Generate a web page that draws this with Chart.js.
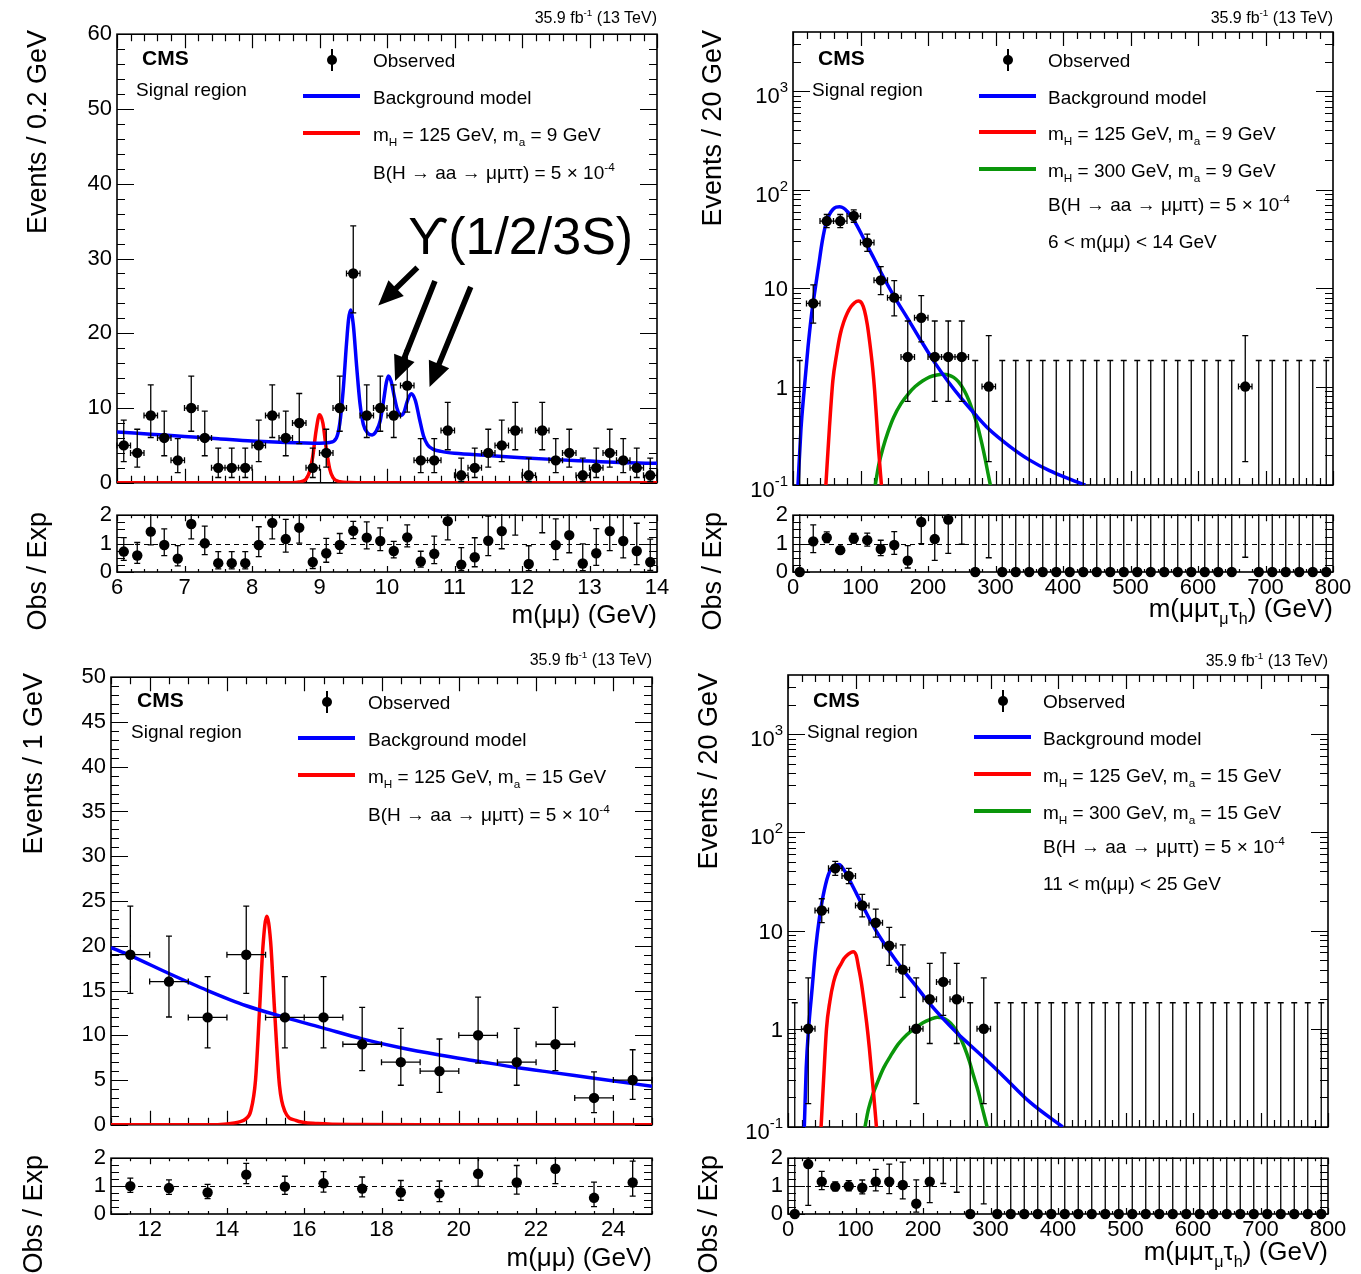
<!DOCTYPE html>
<html>
<head>
<meta charset="utf-8">
<script src="https://cdn.jsdelivr.net/npm/chart.js@4.4.1/dist/chart.umd.min.js"></script>
<style>
  html, body { margin: 0; padding: 0; background: #fff; }
  body { position: relative; width: 1361px; height: 1274px; overflow: hidden;
         font-family: 'Liberation Sans', Arial, sans-serif; color: #000; }
  canvas { position: absolute; }
  .t { position: absolute; white-space: nowrap; line-height: 1; }
  .t sub { font-size: 0.62em; vertical-align: -0.45em; line-height: 0; }
  .t sup { font-size: 0.62em; vertical-align: 0.7em; line-height: 0; }
  .yt { position: absolute; width: 500px; text-align: right; white-space: nowrap; line-height: 1;
        transform-origin: 0 0; transform: rotate(-90deg); }
  .key { position: absolute; }
</style>
</head>
<body>
<canvas id="tlMain"></canvas>
<canvas id="tlRatio"></canvas>
<canvas id="trMain"></canvas>
<canvas id="trRatio"></canvas>
<canvas id="blMain"></canvas>
<canvas id="blRatio"></canvas>
<canvas id="brMain"></canvas>
<canvas id="brRatio"></canvas>
<script>
// Garwood 68% intervals for the observed counts (down / up)
const POISSON_LO = {0: 0, 1: 0.827, 2: 1.292, 3: 1.633, 4: 1.914, 5: 2.159, 6: 2.380, 7: 2.581, 8: 2.768, 9: 2.943,
  10: 3.108, 12: 3.415, 13: 3.559, 16: 3.960, 18: 4.206, 19: 4.324, 28: 5.26, 29: 5.35, 36: 5.97, 43: 6.53, 48: 6.90, 54: 7.32};
const POISSON_HI = {0: 1.841, 1: 2.299, 2: 2.638, 3: 2.918, 4: 3.162, 5: 3.382, 6: 3.583, 7: 3.770, 8: 3.945, 9: 4.110,
  10: 4.266, 12: 4.559, 13: 4.697, 16: 5.083, 18: 5.321, 19: 5.435, 28: 6.36, 29: 6.45, 36: 7.05, 43: 7.59, 48: 7.97, 54: 8.39};

// m(mumu) spectrum, 6-14 GeV, 0.2 GeV bins
const tlCenters = [6.1, 6.3, 6.5, 6.7, 6.9, 7.1, 7.3, 7.5, 7.7, 7.9, 8.1, 8.3, 8.5, 8.7, 8.9, 9.1, 9.3, 9.5, 9.7, 9.9,
  10.1, 10.3, 10.5, 10.7, 10.9, 11.1, 11.3, 11.5, 11.7, 11.9, 12.1, 12.3, 12.5, 12.7, 12.9, 13.1, 13.3, 13.5, 13.7, 13.9];
const tlObserved = [5, 4, 9, 6, 3, 10, 6, 2, 2, 2, 5, 9, 6, 8, 2, 4, 10, 28, 9, 10,
  9, 13, 3, 3, 7, 1, 2, 4, 5, 7, 1, 7, 3, 4, 1, 2, 4, 3, 2, 1];
const tlRatio = [0.72, 0.58, 1.42, 0.95, 0.47, 1.69, 1.01, 0.31, 0.31, 0.31, 0.95, 1.73, 1.16, 1.56, 0.35, 0.66, 0.95, 1.45, 1.21, 1.09,
  0.74, 1.22, 0.37, 0.64, 1.79, 0.26, 0.52, 1.10, 1.44, 2.06, 0.28, 2.19, 0.95, 1.30, 0.30, 0.66, 1.44, 1.09, 0.74, 0.35];
const tlBackground = [[6.0, 6.8], [6.5, 6.5], [7.0, 6.2], [7.5, 5.9], [8.0, 5.6], [8.5, 5.4], [9.0, 5.3], [9.15, 5.4], [9.25, 6.0],
  [9.30, 7.9], [9.35, 12.3], [9.40, 18.6], [9.43, 21.8], [9.46, 23.1], [9.50, 21.2], [9.55, 15.6], [9.60, 10.6], [9.65, 7.8],
  [9.72, 6.6], [9.78, 6.4], [9.84, 6.9], [9.90, 8.3], [9.95, 11.0], [9.99, 13.4], [10.02, 14.3], [10.06, 13.6], [10.10, 11.9],
  [10.15, 9.9], [10.20, 9.0], [10.25, 9.4], [10.30, 10.9], [10.36, 11.9], [10.42, 11.0], [10.48, 8.6], [10.54, 6.3], [10.60, 5.1],
  [10.68, 4.5], [10.8, 4.2], [11.0, 3.95], [11.5, 3.66], [12.0, 3.35], [12.5, 3.1], [13.0, 2.9], [13.5, 2.7], [14.0, 2.6]];
const tlSignal = [[6.0, 0], [8.6, 0], [8.7, 0.1], [8.8, 0.5], [8.85, 1.4], [8.9, 3.5], [8.95, 7.0], [9.0, 9.1], [9.05, 8.0],
  [9.1, 4.6], [9.15, 1.9], [9.2, 0.7], [9.3, 0.15], [9.45, 0.03], [9.7, 0], [14.0, 0]];

// m(mumu tau_mu tau_h) spectra, 0-800 GeV, 20 GeV bins
const massCenters = [10, 30, 50, 70, 90, 110, 130, 150, 170, 190, 210, 230, 250, 270, 290, 310, 330, 350, 370, 390,
  410, 430, 450, 470, 490, 510, 530, 550, 570, 590, 610, 630, 650, 670, 690, 710, 730, 750, 770, 790];

// 6 < m(mumu) < 14 GeV
const trObserved = [0, 7, 48, 48, 54, 29, 12, 8, 2, 5, 2, 2, 2, 0, 1, 0, 0, 0, 0, 0,
  0, 0, 0, 0, 0, 0, 0, 0, 0, 0, 0, 0, 0, 1, 0, 0, 0, 0, 0, 0];
const trRatio = [0, 1.08, 1.21, 0.77, 1.18, 1.12, 0.81, 0.95, 0.40, 1.76, 1.16, 1.85, 2.76, 0, 2.9, 0, 0, 0, 0, 0,
  0, 0, 0, 0, 0, 0, 0, 0, 0, 0, 0, 0, 0, 3.0, 0, 0, 0, 0, 0, 0];
const trBackground = [[7.4, 0.1], [11.7, 0.36], [17, 1.0], [22.2, 2.5], [27.5, 5.4], [33, 10], [38, 17], [43.4, 30], [48.7, 45],
  [54, 56], [59, 63], [64, 66.5], [69, 67], [75, 65], [80.5, 60], [86, 54], [91, 48], [100, 37], [110, 27], [120, 20],
  [130, 14.6], [150, 8.2], [170, 4.9], [190, 2.9], [210, 1.75], [230, 1.12], [250, 0.75], [270, 0.52], [290, 0.37],
  [320, 0.25], [350, 0.18], [380, 0.14], [410, 0.115], [433, 0.1]];
const trSignal125 = [[48.7, 0.1], [54, 0.385], [59, 1.14], [64.5, 2.1], [70, 3.4], [75, 4.5], [80.5, 5.6], [86, 6.5], [91, 7.1],
  [97, 7.4], [102, 7.0], [106, 5.9], [110, 4.3], [114, 2.7], [118, 1.55], [121, 0.9], [124, 0.45], [127, 0.22], [131, 0.1]];
const trSignal300 = [[121.9, 0.1], [127, 0.16], [133.5, 0.24], [141, 0.35], [149, 0.486], [160, 0.67], [170.6, 0.84], [181, 1.0],
  [191.8, 1.14], [202, 1.25], [213, 1.31], [222, 1.33], [230, 1.31], [238, 1.24], [245, 1.12], [253, 0.93], [260.7, 0.72],
  [268, 0.52], [274, 0.385], [280, 0.26], [285, 0.18], [289, 0.13], [292.4, 0.1]];

// m(mumu) spectrum, 11-25 GeV, 1 GeV bins
const blCenters = [11.5, 12.5, 13.5, 14.5, 15.5, 16.5, 17.5, 18.5, 19.5, 20.5, 21.5, 22.5, 23.5, 24.5];
const blObserved = [19, 16, 12, 19, 12, 12, 9, 7, 6, 10, 7, 9, 3, 5];
const blRatio = [1.00, 0.93, 0.77, 1.41, 0.98, 1.10, 0.91, 0.78, 0.74, 1.44, 1.13, 1.62, 0.58, 1.13];
const blBackground = [[11, 19.8], [11.5, 18.9], [12.5, 16.9], [13.5, 15.0], [14.5, 13.3], [15.5, 12.0], [16.5, 10.8], [17.5, 9.6],
  [18.5, 8.6], [19.5, 7.8], [20.5, 7.1], [21.5, 6.4], [22.5, 5.8], [23.5, 5.2], [24.5, 4.6], [25, 4.3]];
const blSignal = [[11, 0], [13.5, 0], [14.0, 0.1], [14.3, 0.3], [14.5, 0.7], [14.62, 1.6], [14.74, 5], [14.84, 12.5], [14.93, 19.8],
  [15.03, 23.3], [15.13, 20.5], [15.23, 13], [15.36, 4.4], [15.5, 1.5], [15.78, 0.5], [16.35, 0.15], [17.5, 0.03], [19, 0], [25, 0]];

// 11 < m(mumu) < 25 GeV
const brObserved = [0, 1, 16, 43, 36, 18, 12, 7, 4, 1, 2, 3, 2, 0, 1, 0, 0, 0, 0, 0,
  0, 0, 0, 0, 0, 0, 0, 0, 0, 0, 0, 0, 0, 0, 0, 0, 0, 0, 0, 0];
const brRatio = [0, 1.79, 1.16, 0.98, 1.00, 0.94, 1.16, 1.16, 1.04, 0.37, 1.16, 2.4, 2.2, 0, 2.1, 0, 0, 0, 0, 0,
  0, 0, 0, 0, 0, 0, 0, 0, 0, 0, 0, 0, 0, 0, 0, 0, 0, 0, 0, 0];
const brBackground = [[24.2, 0.1], [27, 0.4], [30.5, 1.0], [35.8, 2.6], [41, 6.6], [46.4, 13.3], [51.7, 22], [59.6, 36.7],
  [67.6, 45.6], [75.5, 47], [83.4, 41], [94, 30], [110, 18.2], [131, 9.8], [150, 6.2], [170, 4.0], [190, 2.7], [210, 1.8],
  [230, 1.26], [250, 0.91], [270, 0.68], [290, 0.51], [316, 0.345], [358, 0.18], [407, 0.1]];
const brSignal125 = [[49, 0.1], [52.7, 0.3], [57, 1.0], [62, 1.9], [67.6, 3.0], [73, 3.9], [78, 4.5], [83, 5.2], [88.6, 5.7],
  [96.6, 6.1], [101, 5.6], [104.6, 4.2], [108.5, 3.0], [112.5, 1.9], [116.5, 1.15], [120.5, 0.64], [123.5, 0.38], [126.8, 0.22], [131, 0.1]];
const brSignal300 = [[114, 0.1], [119, 0.15], [125.8, 0.216], [133, 0.29], [141.7, 0.40], [152, 0.53], [163, 0.694], [176, 0.87],
  [189, 1.02], [200, 1.15], [210, 1.24], [221, 1.31], [229, 1.29], [237, 1.2], [245, 1.06], [252.8, 0.876], [261, 0.66],
  [268.6, 0.47], [275, 0.33], [281.8, 0.23], [288, 0.155], [295, 0.1]];

// Upsilon arrows (tail -> tip, in axis units)
const upsilonArrows = [
  { from: [10.45, 28.8], to: [9.87, 23.7] },
  { from: [10.71, 27.0], to: [10.12, 13.6] },
  { from: [11.24, 26.2], to: [10.63, 12.8] }
];

const BLUE = '#0000ff', RED = '#ff0000', GREEN = '#0a960a';
const AXIS_W = 110, PAD_R = 30, PAD_V = 16, XAXIS_H = 40;
const RATIO_MAX = 2;
const MARKER = 5.2;

Chart.defaults.font.family = "'Liberation Sans', Arial, sans-serif";
Chart.defaults.font.size = 22;
Chart.defaults.color = '#000';

function steps(from, to, step) {
  const out = [];
  for (let i = 0; from + i * step <= to + step * 1e-6; i++) out.push(+(from + i * step).toFixed(6));
  return out;
}
function logMinor(min, max) {
  const out = [];
  for (let e = Math.round(Math.log10(min)); Math.pow(10, e) < max; e++) {
    for (let k = 2; k <= 9; k++) if (k * Math.pow(10, e) < max) out.push(k * Math.pow(10, e));
  }
  return out;
}

function curve(points, color) {
  return {
    type: 'line', data: points.map(p => ({ x: p[0], y: p[1] })), borderColor: color, borderWidth: 3.5,
    pointRadius: 0, cubicInterpolationMode: 'monotone', fill: false
  };
}

function observed(centers, counts, halfWidth) {
  return {
    type: 'scatter', showLine: false,
    data: centers.map((x, i) => ({ x, y: counts[i] > 0 ? counts[i] : null })),
    pointRadius: MARKER, pointBackgroundColor: '#000', pointBorderColor: '#000', pointBorderWidth: 0,
    errors: {
      centers, values: counts, xHalf: halfWidth,
      lo: counts.map(n => POISSON_LO[n]), hi: counts.map(n => POISSON_HI[n])
    }
  };
}

function ratioPoints(centers, ratio, counts) {
  return {
    type: 'scatter', showLine: false, clip: false,
    data: centers.map((x, i) => ({ x, y: ratio[i] })),
    pointRadius: ctx => (ctx.raw && ctx.raw.y > RATIO_MAX ? 0 : MARKER),
    pointBackgroundColor: '#000', pointBorderColor: '#000', pointBorderWidth: 0,
    errors: {
      centers, values: ratio, xHalf: 0,
      lo: counts.map((n, i) => (n > 0 ? ratio[i] * POISSON_LO[n] / n : 0)),
      hi: counts.map((n, i) => (n > 0 ? ratio[i] * POISSON_HI[n] / n : Infinity))
    }
  };
}

// frame, inward ticks, error bars and extra annotations, ROOT style
function framePlugin(f) {
  return {
    id: 'rootFrame',
    beforeDatasetsDraw(chart) {
      const { ctx, chartArea: a, scales: { x, y } } = chart;
      ctx.save();
      ctx.strokeStyle = '#000';
      ctx.lineWidth = 1.2;
      ctx.beginPath();
      const tickX = (vals, len) => vals.forEach(v => {
        const p = Math.round(x.getPixelForValue(v)) + 0.5;
        if (p < a.left - 1 || p > a.right + 1) return;
        ctx.moveTo(p, a.bottom); ctx.lineTo(p, a.bottom - len);
        ctx.moveTo(p, a.top); ctx.lineTo(p, a.top + len);
      });
      const tickY = (vals, len) => vals.forEach(v => {
        const p = Math.round(y.getPixelForValue(v)) + 0.5;
        if (p < a.top - 1 || p > a.bottom + 1) return;
        ctx.moveTo(a.left, p); ctx.lineTo(a.left + len, p);
        ctx.moveTo(a.right, p); ctx.lineTo(a.right - len, p);
      });
      tickX(f.xMinor, f.xLen[1]); tickX(f.xMajor, f.xLen[0]);
      tickY(f.yMinor, f.yLen[1]); tickY(f.yMajor, f.yLen[0]);
      ctx.stroke();
      if (f.refLine !== undefined) {
        const p = Math.round(y.getPixelForValue(f.refLine)) + 0.5;
        ctx.setLineDash([5, 4]);
        ctx.lineWidth = 1;
        ctx.beginPath(); ctx.moveTo(a.left, p); ctx.lineTo(a.right, p); ctx.stroke();
        ctx.setLineDash([]);
      }
      ctx.lineWidth = 1.6;
      ctx.strokeRect(a.left, a.top, a.width, a.height);
      ctx.restore();
    },
    afterDatasetsDraw(chart) {
      const { ctx, chartArea: a, scales: { x, y } } = chart;
      ctx.save();
      ctx.beginPath(); ctx.rect(a.left - 1, a.top - 1, a.width + 2, a.height + 2); ctx.clip();
      ctx.strokeStyle = '#000';
      ctx.lineWidth = 1.3;
      const cap = 3;
      chart.data.datasets.forEach(ds => {
        const e = ds.errors;
        if (!e) return;
        ctx.beginPath();
        e.centers.forEach((cx, i) => {
          const v = e.values[i];
          const px = x.getPixelForValue(cx);
          const top = v + e.hi[i], bot = v - e.lo[i];
          const pTop = y.getPixelForValue(Math.min(top, y.max * 1.5));
          const pBot = y.getPixelForValue(Math.max(bot, y.min));
          ctx.moveTo(px, pBot); ctx.lineTo(px, pTop);
          if (top <= y.max) { ctx.moveTo(px - cap, pTop); ctx.lineTo(px + cap, pTop); }
          if (bot > y.min) { ctx.moveTo(px - cap, pBot); ctx.lineTo(px + cap, pBot); }
          if (e.xHalf && v > 0) {
            const py = y.getPixelForValue(v);
            const l = x.getPixelForValue(cx - e.xHalf), r = x.getPixelForValue(cx + e.xHalf);
            ctx.moveTo(l, py); ctx.lineTo(r, py);
            ctx.moveTo(l, py - cap); ctx.lineTo(l, py + cap);
            ctx.moveTo(r, py - cap); ctx.lineTo(r, py + cap);
          }
        });
        ctx.stroke();
      });
      ctx.restore();

      (f.arrows || []).forEach(ar => {
        const x0 = x.getPixelForValue(ar.from[0]), y0 = y.getPixelForValue(ar.from[1]);
        const x1 = x.getPixelForValue(ar.to[0]), y1 = y.getPixelForValue(ar.to[1]);
        const ang = Math.atan2(y1 - y0, x1 - x0);
        const len = Math.hypot(x1 - x0, y1 - y0);
        const head = 25, hw = 11, sw = 2.8;
        ctx.save();
        ctx.translate(x0, y0); ctx.rotate(ang);
        ctx.fillStyle = '#000';
        ctx.beginPath();
        ctx.moveTo(0, -sw); ctx.lineTo(len - head, -sw); ctx.lineTo(len - head, -hw);
        ctx.lineTo(len, 0);
        ctx.lineTo(len - head, hw); ctx.lineTo(len - head, sw); ctx.lineTo(0, sw);
        ctx.closePath(); ctx.fill();
        ctx.restore();
      });
    },
    afterDraw(chart) {
      if (!f.logLabels) return;
      const { ctx, chartArea: a, scales: { y } } = chart;
      ctx.save();
      ctx.fillStyle = '#000';
      ctx.textBaseline = 'alphabetic';
      const base = "22px 'Liberation Sans', Arial, sans-serif";
      const small = "15px 'Liberation Sans', Arial, sans-serif";
      f.logLabels.forEach(([v, mant, exp]) => {
        const py = y.getPixelForValue(v);
        ctx.font = small; const we = exp ? ctx.measureText(exp).width : 0;
        ctx.font = base; const wm = ctx.measureText(mant).width;
        const right = a.left - 5;
        const shift = exp ? 4 : 0;
        ctx.fillText(mant, right - we - wm, py + 8 + shift);
        if (exp) { ctx.font = small; ctx.fillText(exp, right - we, py - 3 + shift); }
      });
      ctx.restore();
    }
  };
}

function buildChart(id, box, cfg) {
  const c = document.getElementById(id);
  const withX = !!cfg.xLabels;
  c.width = box.r - box.l + AXIS_W + PAD_R;
  c.height = box.b - box.t + PAD_V + (withX ? XAXIS_H : PAD_V);
  c.style.left = (box.l - AXIS_W) + 'px';
  c.style.top = (box.t - PAD_V) + 'px';
  return new Chart(c, {
    type: 'line',
    data: { datasets: cfg.datasets },
    options: {
      responsive: false,
      animation: false,
      events: [],
      layout: { padding: { left: 0, top: PAD_V, right: PAD_R, bottom: withX ? 0 : PAD_V } },
      scales: {
        x: {
          type: 'linear', min: cfg.xMin, max: cfg.xMax, display: withX,
          grid: { display: false, drawTicks: false }, border: { display: false },
          ticks: { padding: 3, maxRotation: 0, autoSkip: false, callback: v => String(v) },
          afterBuildTicks: s => { if (withX) s.ticks = cfg.xLabels.map(v => ({ value: v })); },
          afterFit: s => { if (withX) s.height = XAXIS_H; }
        },
        y: {
          type: cfg.yLog ? 'logarithmic' : 'linear', min: cfg.yMin, max: cfg.yMax,
          grid: { display: false, drawTicks: false }, border: { display: false },
          ticks: { display: !cfg.yLog, padding: 5, autoSkip: false, callback: v => String(v) },
          afterBuildTicks: s => { if (cfg.yLabels) s.ticks = cfg.yLabels.map(v => ({ value: v })); },
          afterFit: s => { s.width = AXIS_W; }
        }
      },
      plugins: { legend: { display: false }, tooltip: { enabled: false } }
    },
    plugins: [framePlugin(cfg.frame)]
  });
}

const LOG_LABELS = [[0.1, '10', '-1'], [1, '1', ''], [10, '10', ''], [100, '10', '2'], [1000, '10', '3']];
const MAIN_LEN = { x: [14, 7], y: [17, 8] };
const RATIO_LEN = { x: [6, 3], y: [17, 8] };

function ratioChart(id, box, centers, ratio, counts, xMin, xMax, xLabels, xMajor, xMinor) {
  return buildChart(id, box, {
    datasets: [ratioPoints(centers, ratio, counts)],
    xMin, xMax, xLabels, yMin: 0, yMax: RATIO_MAX, yLabels: [0, 1, 2],
    frame: { xMajor, xMinor, yMajor: [0, 1, 2], yMinor: steps(0, 2, 0.25), xLen: RATIO_LEN.x, yLen: RATIO_LEN.y, refLine: 1 }
  });
}

// ---------- 6-14 GeV m(mumu) ----------
const tlXMajor = steps(6, 14, 1), tlXMinor = steps(6, 14, 0.2);
buildChart('tlMain', { l: 117, r: 657, t: 32, b: 485 }, {
  datasets: [observed(tlCenters, tlObserved, 0.1), curve(tlBackground, BLUE), curve(tlSignal, RED)],
  xMin: 6, xMax: 14, yMin: 0, yMax: 60, yLabels: steps(0, 60, 10),
  frame: { xMajor: tlXMajor, xMinor: tlXMinor, yMajor: steps(0, 60, 10), yMinor: steps(0, 60, 2),
           xLen: MAIN_LEN.x, yLen: MAIN_LEN.y, arrows: upsilonArrows }
});
ratioChart('tlRatio', { l: 117, r: 657, t: 513, b: 572 }, tlCenters, tlRatio, tlObserved,
  6, 14, steps(6, 14, 1), tlXMajor, tlXMinor);

// ---------- 6 < m(mumu) < 14 GeV, four-body mass ----------
const mXMajor = steps(0, 800, 100), mXMinor = steps(0, 800, 20);
buildChart('trMain', { l: 793, r: 1333, t: 32, b: 485 }, {
  datasets: [observed(massCenters, trObserved, 10), curve(trBackground, BLUE), curve(trSignal125, RED), curve(trSignal300, GREEN)],
  xMin: 0, xMax: 800, yLog: true, yMin: 0.1, yMax: 4000, yLabels: [0.1, 1, 10, 100, 1000],
  frame: { xMajor: mXMajor, xMinor: mXMinor, yMajor: [0.1, 1, 10, 100, 1000], yMinor: logMinor(0.1, 4000),
           xLen: MAIN_LEN.x, yLen: MAIN_LEN.y, logLabels: LOG_LABELS }
});
ratioChart('trRatio', { l: 793, r: 1333, t: 513, b: 572 }, massCenters, trRatio, trObserved,
  0, 800, mXMajor, mXMajor, mXMinor);

// ---------- 11-25 GeV m(mumu) ----------
const blXMajor = steps(12, 24, 2), blXMinor = steps(11, 25, 0.5);
buildChart('blMain', { l: 111, r: 652, t: 675, b: 1127 }, {
  datasets: [observed(blCenters, blObserved, 0.5), curve(blBackground, BLUE), curve(blSignal, RED)],
  xMin: 11, xMax: 25, yMin: 0, yMax: 50, yLabels: steps(0, 50, 5),
  frame: { xMajor: blXMajor, xMinor: blXMinor, yMajor: steps(0, 50, 5), yMinor: steps(0, 50, 1),
           xLen: MAIN_LEN.x, yLen: MAIN_LEN.y }
});
ratioChart('blRatio', { l: 111, r: 652, t: 1156, b: 1214 }, blCenters, blRatio, blObserved,
  11, 25, blXMajor, blXMajor, blXMinor);

// ---------- 11 < m(mumu) < 25 GeV, four-body mass ----------
buildChart('brMain', { l: 788, r: 1328, t: 675, b: 1127 }, {
  datasets: [observed(massCenters, brObserved, 10), curve(brBackground, BLUE), curve(brSignal125, RED), curve(brSignal300, GREEN)],
  xMin: 0, xMax: 800, yLog: true, yMin: 0.1, yMax: 4000, yLabels: [0.1, 1, 10, 100, 1000],
  frame: { xMajor: mXMajor, xMinor: mXMinor, yMajor: [0.1, 1, 10, 100, 1000], yMinor: logMinor(0.1, 4000),
           xLen: MAIN_LEN.x, yLen: MAIN_LEN.y, logLabels: LOG_LABELS }
});
ratioChart('brRatio', { l: 788, r: 1328, t: 1156, b: 1214 }, massCenters, brRatio, brObserved,
  0, 800, mXMajor, mXMajor, mXMinor);

// ---------- text, legends, titles ----------
function txt(html, x, cy, size, opts = {}) {
  const d = document.createElement('div');
  d.className = 't';
  d.innerHTML = html;
  d.style.fontSize = size + 'px';
  d.style.left = x + 'px';
  d.style.top = (cy - size / 2) + 'px';
  if (opts.bold) d.style.fontWeight = 'bold';
  if (opts.right) d.style.transform = 'translateX(-100%)';
  document.body.appendChild(d);
}
function yTitle(text, cx, topY, size) {
  const d = document.createElement('div');
  d.className = 'yt';
  d.textContent = text;
  d.style.fontSize = size + 'px';
  d.style.left = (cx - size / 2) + 'px';
  d.style.top = (topY + 500) + 'px';
  document.body.appendChild(d);
}
function keyLine(x1, x2, cy, color) {
  const d = document.createElement('div');
  d.className = 'key';
  Object.assign(d.style, { left: x1 + 'px', top: (cy - 2) + 'px', width: (x2 - x1) + 'px', height: '4px', background: color });
  document.body.appendChild(d);
}
function keyDot(cx, cy) {
  const bar = document.createElement('div');
  bar.className = 'key';
  Object.assign(bar.style, { left: (cx - 0.75) + 'px', top: (cy - 11) + 'px', width: '1.5px', height: '22px', background: '#000' });
  const dot = document.createElement('div');
  dot.className = 'key';
  Object.assign(dot.style, { left: (cx - 5) + 'px', top: (cy - 5) + 'px', width: '10px', height: '10px', borderRadius: '50%', background: '#000' });
  document.body.appendChild(bar);
  document.body.appendChild(dot);
}

const LUMI = '35.9 fb<sup>-1</sup> (13 TeV)';
const BR = 'B(H → aa → μμττ) = 5 × 10<sup>-4</sup>';
const LEG = 19, TITLE = 27;

function panelText(p) {
  txt(LUMI, p.frameR, p.lumiY, 16, { right: true });
  txt('CMS', p.cmsX, p.cmsY, 21, { bold: true });
  txt('Signal region', p.cmsX - 6, p.cmsY + 32, LEG);
  keyDot(p.keyX + 29, p.rows[0]);
  txt('Observed', p.textX, p.rows[0], LEG);
  p.lines.forEach((col, i) => keyLine(p.keyX, p.keyX + 57, p.rows[i + 1] - 1, col));
  p.labels.forEach((html, i) => txt(html, p.textX, p.rows[i + 1], LEG));
  yTitle(p.yTitle, p.titleX, p.frameT - 2, TITLE);
  yTitle('Obs / Exp', p.titleX, p.ratioT - 1, TITLE);
  txt(p.xTitle, p.frameR, p.xTitleY, 26, { right: true });
}

panelText({
  frameR: 657, frameT: 32, ratioT: 513, lumiY: 18, cmsX: 142, cmsY: 57, keyX: 303, textX: 373,
  rows: [60, 97, 134, 172], lines: [BLUE, RED],
  labels: ['Background model', 'm<sub>H</sub> = 125 GeV, m<sub>a</sub> = 9 GeV', BR],
  yTitle: 'Events / 0.2 GeV', titleX: 37, xTitle: 'm(μμ) (GeV)', xTitleY: 614
});
txt('ϒ(1/2/3S)', 408, 236, 52);

panelText({
  frameR: 1333, frameT: 32, ratioT: 513, lumiY: 18, cmsX: 818, cmsY: 57, keyX: 979, textX: 1048,
  rows: [60, 97, 133, 170, 204, 241], lines: [BLUE, RED, GREEN],
  labels: ['Background model', 'm<sub>H</sub> = 125 GeV, m<sub>a</sub> = 9 GeV', 'm<sub>H</sub> = 300 GeV, m<sub>a</sub> = 9 GeV',
           BR, '6 &lt; m(μμ) &lt; 14 GeV'],
  yTitle: 'Events / 20 GeV', titleX: 712, xTitle: 'm(μμτ<sub>μ</sub>τ<sub>h</sub>) (GeV)', xTitleY: 608
});

panelText({
  frameR: 652, frameT: 675, ratioT: 1156, lumiY: 660, cmsX: 137, cmsY: 699, keyX: 298, textX: 368,
  rows: [702, 739, 776, 814], lines: [BLUE, RED],
  labels: ['Background model', 'm<sub>H</sub> = 125 GeV, m<sub>a</sub> = 15 GeV', BR],
  yTitle: 'Events / 1 GeV', titleX: 33, xTitle: 'm(μμ) (GeV)', xTitleY: 1257
});

panelText({
  frameR: 1328, frameT: 675, ratioT: 1156, lumiY: 661, cmsX: 813, cmsY: 699, keyX: 974, textX: 1043,
  rows: [701, 738, 775, 812, 846, 883], lines: [BLUE, RED, GREEN],
  labels: ['Background model', 'm<sub>H</sub> = 125 GeV, m<sub>a</sub> = 15 GeV', 'm<sub>H</sub> = 300 GeV, m<sub>a</sub> = 15 GeV',
           BR, '11 &lt; m(μμ) &lt; 25 GeV'],
  yTitle: 'Events / 20 GeV', titleX: 708, xTitle: 'm(μμτ<sub>μ</sub>τ<sub>h</sub>) (GeV)', xTitleY: 1251
});
</script>
</body>
</html>
